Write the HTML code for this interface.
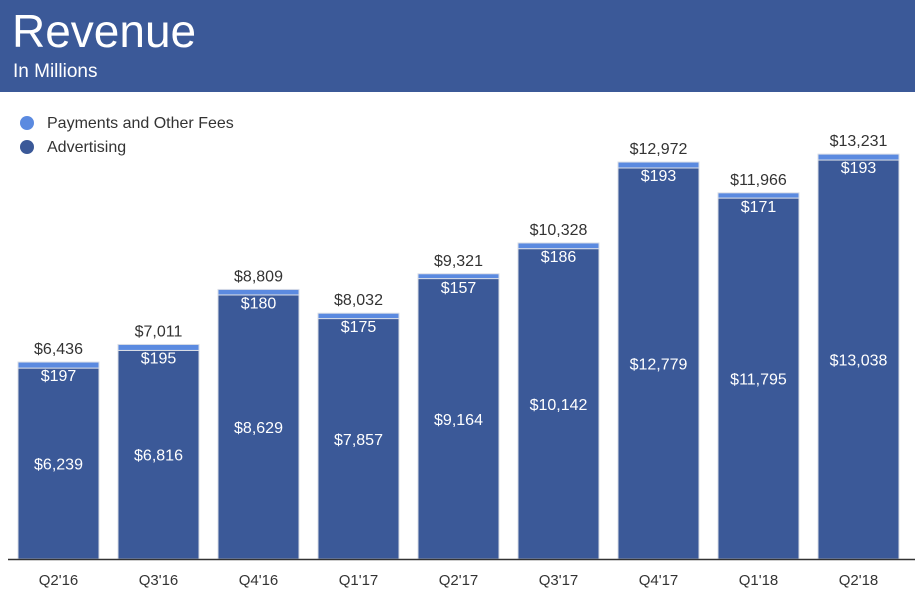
<!DOCTYPE html>
<html><head><meta charset="utf-8"><style>
body{margin:0;width:915px;height:603px;background:#fff;font-family:"Liberation Sans",sans-serif;overflow:hidden;position:relative}
#hdr{position:absolute;left:0;top:0;width:915px;height:92px;background:#3b5998;color:#fff}
#hdr h1{position:absolute;left:12px;top:4px;margin:0;font-weight:normal;font-size:46px}
#hdr div{position:absolute;left:13px;top:61px;font-size:19px}
.leg{position:absolute;left:20px;font-size:16px;color:#333}
.leg span{display:inline-block;width:14px;height:14px;border-radius:50%;vertical-align:-2px;margin-right:13px}
</style></head><body>
<div id="hdr"><h1>Revenue</h1><div>In Millions</div></div>
<div class="leg" style="top:115px"><span style="background:#5b8ae0"></span>Payments and Other Fees</div>
<div class="leg" style="top:139px"><span style="background:#3b5998"></span>Advertising</div>
<svg id="c" width="915" height="603" style="position:absolute;left:0;top:0"></svg>
<script>
const categories=["Q2'16","Q3'16","Q4'16","Q1'17","Q2'17","Q3'17","Q4'17","Q1'18","Q2'18"];
const advertising=[6239,6816,8629,7857,9164,10142,12779,11795,13038];
const payments=[197,195,180,175,157,186,193,171,193];
const totals=[6436,7011,8809,8032,9321,10328,12972,11966,13231];
const NS="http://www.w3.org/2000/svg",svg=document.getElementById('c');
const base=559,k=0.0306;
const y=v=>base-v*k, x=i=>18+i*100, bw=81;
const fmt=v=>'$'+v.toLocaleString('en-US');
function mk(t,a,txt){const e=document.createElementNS(NS,t);for(const n in a)e.setAttribute(n,a[n]);if(txt!=null)e.textContent=txt;svg.appendChild(e);return e;}
categories.forEach((c,i)=>{
  const ta=y(advertising[i]),tt=y(advertising[i]+payments[i]);
  const r1=mk('rect',{x:x(i),y:ta,width:bw,height:base-ta,fill:'#3b5998',stroke:'#d9dde6','stroke-width':1});
  
  
  const r2=mk('rect',{x:x(i),y:tt,width:bw,height:ta-tt,fill:'#5b8ae0',stroke:'#d9dde6','stroke-width':1});
  
  
  const cx=x(i)+bw/2;
  const l1=mk('text',{x:cx,y:(ta+base)/2+6,'text-anchor':'middle','font-size':16,fill:'#fff'},fmt(advertising[i]));
  
  
  const l2=mk('text',{x:cx,y:tt+19,'text-anchor':'middle','font-size':16,fill:'#fff'},fmt(payments[i]));
  
  
  const l3=mk('text',{x:cx,y:tt-8,'text-anchor':'middle','font-size':16,fill:'#333'},fmt(totals[i]));
  
  
  const l4=mk('text',{x:cx,y:base+26,'text-anchor':'middle','font-size':15,fill:'#333'},c);
  
  
});
const ax=mk('line',{x1:8,x2:915,y1:base+0.5,y2:base+0.5,stroke:'#333','stroke-width':1.5});


</script>
</body></html>
